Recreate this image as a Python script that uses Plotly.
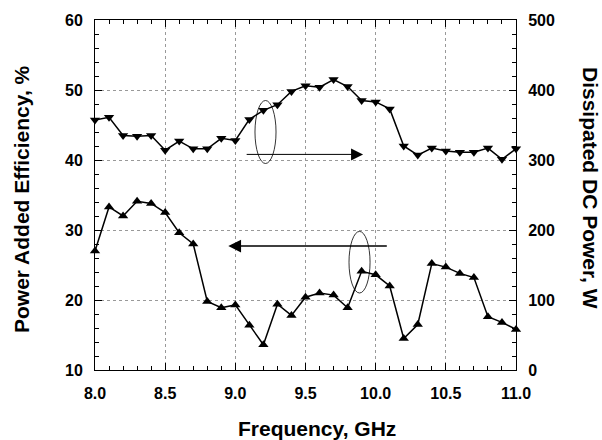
import plotly.graph_objects as go

freq = [8.0, 8.1, 8.2, 8.3, 8.4, 8.5, 8.6, 8.7, 8.8, 8.9, 9.0, 9.1, 9.2, 9.3, 9.4, 9.5,
        9.6, 9.7, 9.8, 9.9, 10.0, 10.1, 10.2, 10.3, 10.4, 10.5, 10.6, 10.7, 10.8, 10.9, 11.0]
pae = [27.0, 33.3, 32.0, 34.1, 33.8, 32.5, 29.6, 28.0, 19.8, 18.9, 19.3, 16.4, 13.6, 19.4, 17.8, 20.4,
       21.0, 20.7, 18.9, 24.1, 23.6, 22.0, 14.5, 16.5, 25.2, 24.7, 23.8, 23.2, 17.6, 16.8, 15.8]
pdc = [357, 361, 335, 334, 335, 314, 327, 316, 316, 331, 328, 358, 371, 379, 398, 406,
       404, 415, 405, 385, 383, 373, 320, 307, 317, 313, 311, 311, 317, 301, 316]

x_ticks = [8.0, 8.5, 9.0, 9.5, 10.0, 10.5, 11.0]
x_tick_labels = ["8.0", "8.5", "9.0", "9.5", "10.0", "10.5", "11.0"]
y_ticks = [10, 20, 30, 40, 50, 60]
y2_ticks = [0, 100, 200, 300, 400, 500]

FONT = "Liberation Sans, Arial, sans-serif"
tickfont = dict(family=FONT, size=16, color="black", weight="bold")
titlefont = dict(family=FONT, size=21, color="black", weight="bold")

fig = go.Figure()
fig.add_trace(go.Scatter(x=freq, y=pae, mode="lines+markers",
                         line=dict(color="black", width=1.5),
                         marker=dict(symbol="triangle-up", size=9, color="black"),
                         cliponaxis=False, showlegend=False))
fig.add_trace(go.Scatter(x=freq, y=pdc, mode="lines+markers", yaxis="y2",
                         line=dict(color="black", width=1.5),
                         marker=dict(symbol="triangle-down", size=9, color="black"),
                         cliponaxis=False, showlegend=False))

fig.update_layout(
    width=602, height=440,
    margin=dict(l=95, r=86, t=20, b=70),
    paper_bgcolor="white", plot_bgcolor="white",
    font=dict(family=FONT, color="black"),
    xaxis=dict(range=[8.0, 11.0], tickvals=x_ticks, ticktext=x_tick_labels,
               ticks="inside", ticklen=7, tickwidth=1, tickcolor="black",
               minor=dict(dtick=0.1, ticks="inside", ticklen=4, tickcolor="black",
                          showgrid=False),
               showline=True, linecolor="black", linewidth=1, mirror="ticks",
               showgrid=True, gridcolor="#999", griddash="dot", gridwidth=1,
               zeroline=False, tickfont=tickfont, ticklabelstandoff=9),
    yaxis=dict(range=[10, 60], tickvals=y_ticks,
               ticks="inside", ticklen=7, tickwidth=1, tickcolor="black",
               minor=dict(dtick=2, ticks="inside", ticklen=4, tickcolor="black",
                          showgrid=False),
               showline=True, linecolor="black", linewidth=1,
               showgrid=True, gridcolor="#999", griddash="dot", gridwidth=1,
               zeroline=False, tickfont=tickfont, ticklabelstandoff=8),
    yaxis2=dict(range=[0, 500], tickvals=y2_ticks, overlaying="y", side="right",
                ticks="inside", ticklen=7, tickwidth=1, tickcolor="black",
                minor=dict(dtick=20, ticks="inside", ticklen=4, tickcolor="black",
                           showgrid=False),
                showline=True, linecolor="black", linewidth=1,
                showgrid=False, zeroline=False, tickfont=tickfont,
                ticklabelstandoff=8),
)

# Ellipses marking each series
fig.add_shape(type="circle", xref="x", yref="y", x0=9.14, x1=9.29, y0=39.5, y1=48.5,
              line=dict(color="black", width=0.8))
fig.add_shape(type="circle", xref="x", yref="y", x0=9.81, x1=9.96, y0=21.0, y1=29.8,
              line=dict(color="black", width=0.8))

# Arrows pointing to the respective axes
fig.add_annotation(x=9.91, y=40.8, ax=9.07, ay=40.8, xref="x", yref="y",
                   axref="x", ayref="y", showarrow=True, arrowhead=2,
                   arrowsize=2.4, arrowwidth=1, arrowcolor="black", text="")
fig.add_annotation(x=8.95, y=27.7, ax=10.09, ay=27.7, xref="x", yref="y",
                   axref="x", ayref="y", showarrow=True, arrowhead=2,
                   arrowsize=1.7, arrowwidth=1.5, arrowcolor="black", text="")

# Axis titles
fig.add_annotation(text="Frequency, GHz", xref="paper", yref="paper",
                   x=(317 - 95) / 421, y=(370 - 428) / 350, showarrow=False,
                   font=titlefont, xanchor="center", yanchor="middle")
fig.add_annotation(text="Power Added Efficiency, %", xref="paper", yref="paper",
                   x=(21 - 95) / 421, y=(370 - 199) / 350, showarrow=False,
                   font=titlefont, textangle=-90, xanchor="center", yanchor="middle")
fig.add_annotation(text="Dissipated DC Power, W", xref="paper", yref="paper",
                   x=(591 - 95) / 421, y=(370 - 188) / 350, showarrow=False,
                   font=titlefont, textangle=90, xanchor="center", yanchor="middle")

fig.write_html("out.html")
